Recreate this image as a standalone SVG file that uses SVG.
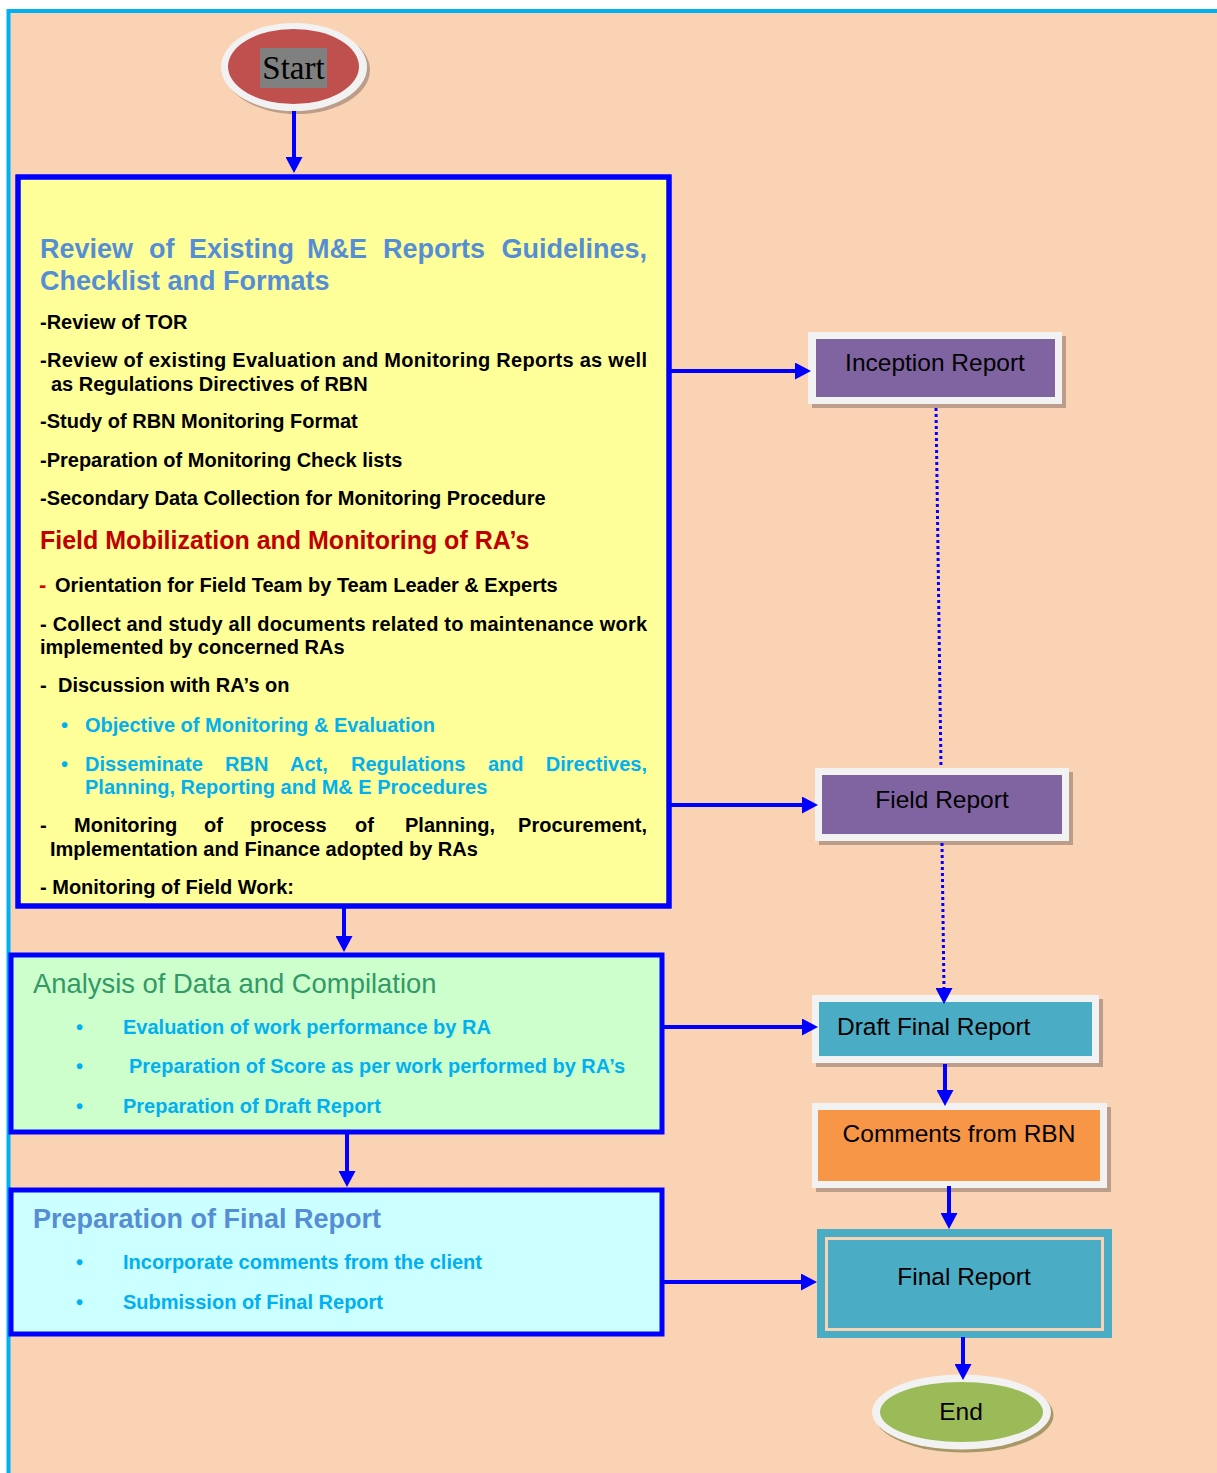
<svg xmlns="http://www.w3.org/2000/svg" width="1217" height="1473" viewBox="0 0 1217 1473">
<defs>
<marker id="ah" markerUnits="userSpaceOnUse" markerWidth="17" markerHeight="17" refX="2" refY="8.5" orient="auto">
<path d="M0,0 L16,8.5 L0,17 Z" fill="#0000FF"/>
</marker>
</defs>
<style>
text{font-family:"Liberation Sans",Arial,sans-serif}
.b{font-weight:bold;font-size:20px;fill:#000}
.cy{font-weight:bold;font-size:20px;fill:#00B0F0}
.hd{font-weight:bold;font-size:27px;fill:#558ED5}
.rb{font-size:24.5px;fill:#000;text-anchor:middle}
.box{stroke:#0000FF;stroke-width:5}
.frame{fill:#F2F2F2}
.shadow{fill:#6F5A56;opacity:0.45}
.conn line,.conn path{stroke:#0000FF;stroke-width:4;fill:none}
.conn .dot{stroke-width:3;stroke-dasharray:3 3}
</style>
<rect x="0" y="0" width="1217" height="1473" fill="#FFFFFF"/>
<rect x="8.5" y="11" width="1215" height="1470" fill="#FAD3B4" stroke="#00B0F0" stroke-width="4"/>

<g id="start">
<ellipse cx="297" cy="70" rx="73" ry="44" class="shadow"/>
<ellipse cx="294" cy="67" rx="73" ry="44" fill="#F2F2F2"/>
<ellipse cx="293.5" cy="66.5" rx="65.5" ry="37.5" fill="#C0504D"/>
<rect x="260" y="48" width="67" height="40" fill="#808080"/>
<text x="293.5" y="79" font-size="33" text-anchor="middle" style="font-family:'Liberation Serif',serif">Start</text>
</g>

<g id="box1">
<rect x="18" y="177" width="651" height="729" fill="#FFFF99" class="box"/>
<text class="hd" y="258"><tspan x="40">Review</tspan><tspan x="149">of</tspan><tspan x="189">Existing</tspan><tspan x="307">M&amp;E</tspan><tspan x="383">Reports</tspan><tspan x="647" text-anchor="end">Guidelines,</tspan></text>
<text class="hd" x="40" y="290">Checklist and Formats</text>
<text class="b" x="40" y="329">-Review of TOR</text>
<text class="b" x="40" y="367" textLength="607" lengthAdjust="spacing">-Review of existing Evaluation and Monitoring Reports as well</text>
<text class="b" x="51" y="391">as Regulations Directives of RBN</text>
<text class="b" x="40" y="428">-Study of RBN Monitoring Format</text>
<text class="b" x="40" y="467">-Preparation of Monitoring Check lists</text>
<text class="b" x="40" y="505">-Secondary Data Collection for Monitoring Procedure</text>
<text x="40" y="549" font-weight="bold" font-size="25" fill="#C00000">Field Mobilization and Monitoring of RA’s</text>
<text x="39" y="592" font-weight="bold" font-size="22" fill="#E00000">-</text>
<text class="b" x="55" y="592">Orientation for Field Team by Team Leader &amp; Experts</text>
<text class="b" x="40" y="631" textLength="607" lengthAdjust="spacing">- Collect and study all documents related to maintenance work</text>
<text class="b" x="40" y="654">implemented by concerned RAs</text>
<text class="b" y="692"><tspan x="40">-</tspan><tspan x="58">Discussion with RA’s on</tspan></text>
<text class="cy" x="61" y="732">•</text>
<text class="cy" x="85" y="732">Objective of Monitoring &amp; Evaluation</text>
<text class="cy" x="61" y="771">•</text>
<text class="cy" y="771"><tspan x="85">Disseminate</tspan><tspan x="225">RBN</tspan><tspan x="290">Act,</tspan><tspan x="351">Regulations</tspan><tspan x="488">and</tspan><tspan x="647" text-anchor="end">Directives,</tspan></text>
<text class="cy" x="85" y="794">Planning, Reporting and M&amp; E Procedures</text>
<text class="b" y="832"><tspan x="40">-</tspan><tspan x="74">Monitoring</tspan><tspan x="204">of</tspan><tspan x="250">process</tspan><tspan x="355">of</tspan><tspan x="405">Planning,</tspan><tspan x="647" text-anchor="end">Procurement,</tspan></text>
<text class="b" x="50" y="856">Implementation and Finance adopted by RAs</text>
<text class="b" x="40" y="894">- Monitoring of Field Work:</text>
<rect x="18" y="177" width="651" height="729" fill="none" class="box"/>
</g>

<g id="box2">
<rect x="11" y="955" width="651" height="177" fill="#CCFFCC" class="box"/>
<text x="33" y="993" font-size="27.4" fill="#339966">Analysis of Data and Compilation</text>
<text class="cy" x="76" y="1034">•</text>
<text class="cy" x="123" y="1034">Evaluation of work performance by RA</text>
<text class="cy" x="76" y="1073">•</text>
<text class="cy" x="129" y="1073">Preparation of Score as per work performed by RA’s</text>
<text class="cy" x="76" y="1113">•</text>
<text class="cy" x="123" y="1113">Preparation of Draft Report</text>
</g>

<g id="box3">
<rect x="11" y="1190" width="651" height="144" fill="#CCFFFF" class="box"/>
<text class="hd" x="33" y="1228" font-size="27.5">Preparation of Final Report</text>
<text class="cy" x="76" y="1269">•</text>
<text class="cy" x="123" y="1269">Incorporate comments from the client</text>
<text class="cy" x="76" y="1309">•</text>
<text class="cy" x="123" y="1309">Submission of Final Report</text>
</g>

<g id="inception">
<rect x="812" y="336" width="254" height="72" class="shadow"/>
<rect x="808" y="332" width="254" height="72" class="frame"/>
<rect x="816" y="339" width="239" height="58" fill="#8064A2"/>
<text class="rb" x="935" y="371">Inception Report</text>
</g>

<g id="field">
<rect x="819" y="772" width="254" height="73" class="shadow"/>
<rect x="815" y="768" width="254" height="73" class="frame"/>
<rect x="822" y="775" width="240" height="59" fill="#8064A2"/>
<text class="rb" x="942" y="808">Field Report</text>
</g>

<g id="draft">
<rect x="816" y="999" width="287" height="68" class="shadow"/>
<rect x="812" y="995" width="287" height="68" class="frame"/>
<rect x="819" y="1002" width="273" height="54" fill="#4BACC6"/>
<text x="837" y="1035" font-size="24.5">Draft Final Report</text>
</g>

<g id="comments">
<rect x="816" y="1107" width="295" height="85" class="shadow"/>
<rect x="812" y="1103" width="295" height="85" class="frame"/>
<rect x="818" y="1110" width="282" height="71" fill="#F79646"/>
<text class="rb" x="959" y="1142">Comments from RBN</text>
</g>

<g id="final">
<rect x="817" y="1229" width="295" height="109" fill="#4BACC6"/>
<rect x="826.5" y="1238.5" width="276" height="91" fill="none" stroke="#FAD3B4" stroke-width="3"/>
<text class="rb" x="964" y="1285">Final Report</text>
</g>

<g id="end">
<ellipse cx="964" cy="1415" rx="89.5" ry="37.5" fill="#A89868"/>
<ellipse cx="961.5" cy="1412" rx="89.5" ry="37.5" fill="#F2F2F2"/>
<ellipse cx="961.5" cy="1412" rx="81.5" ry="30" fill="#9BBB59"/>
<text class="rb" x="961" y="1420">End</text>
</g>

<g id="connectors" class="conn">
<line x1="294" y1="111" x2="294" y2="159" marker-end="url(#ah)"/>
<line x1="669" y1="371" x2="797" y2="371" marker-end="url(#ah)"/>
<line x1="669" y1="805" x2="804" y2="805" marker-end="url(#ah)"/>
<line x1="344" y1="908" x2="344" y2="938" marker-end="url(#ah)"/>
<line x1="662" y1="1027" x2="804" y2="1027" marker-end="url(#ah)"/>
<line x1="347" y1="1134" x2="347" y2="1173" marker-end="url(#ah)"/>
<line x1="662" y1="1282" x2="803" y2="1282" marker-end="url(#ah)"/>
<line class="dot" x1="936" y1="408" x2="941" y2="768"/>
<line class="dot" x1="942" y1="843" x2="944" y2="990"/>
<line x1="944" y1="988" x2="944" y2="990" marker-end="url(#ah)"/>
<line x1="945" y1="1064" x2="945" y2="1092" marker-end="url(#ah)"/>
<line x1="949" y1="1186" x2="949" y2="1215" marker-end="url(#ah)"/>
<line x1="963" y1="1337" x2="963" y2="1366" marker-end="url(#ah)"/>
</g>
</svg>
